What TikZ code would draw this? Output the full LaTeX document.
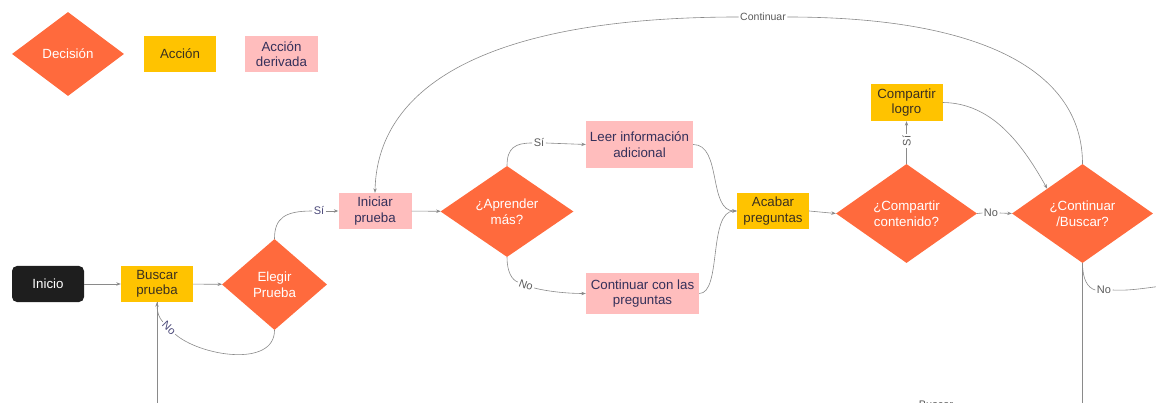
\documentclass[tikz,border=0pt]{standalone}
\usepackage{fontspec}
\setmainfont{Liberation Sans}
\usetikzlibrary{shapes.geometric,arrows.meta}
\definecolor{decfill}{HTML}{FF6A3D}
\definecolor{actfill}{HTML}{FFC300}
\definecolor{derfill}{HTML}{FFBDBD}
\definecolor{startfill}{HTML}{1E1E1E}
\definecolor{navytext}{HTML}{34305A}
\definecolor{acttext}{HTML}{3B3020}
\definecolor{linegray}{HTML}{8A8A8A}
\definecolor{lblgray}{HTML}{5A5A5A}
\definecolor{lblnavy}{HTML}{4A4878}
\begin{document}
\begin{tikzpicture}[x=1pt,y=-1pt,
  txt/.style={font=\fontsize{13.3}{15.5}\selectfont, align=center, inner sep=0pt},
  decision/.style={txt, diamond, fill=decfill, text=white},
  action/.style={txt, rectangle, fill=actfill, text=acttext},
  derived/.style={txt, rectangle, fill=derfill, text=navytext},
  startbox/.style={txt, rectangle, rounded corners=5pt, fill=startfill, text=white},
  conn/.style={draw=linegray, line width=0.6pt},
  arr/.style={conn, -{Stealth[length=4.5pt,width=3.4pt]}},
  lbl/.style={font=\fontsize{11}{12}\selectfont, text=lblgray, inner sep=1.5pt},
  lbln/.style={lbl, text=lblnavy},
]
\useasboundingbox (0,0) rectangle (1156,403);

% legend
\node[decision, minimum width=112pt, minimum height=84pt] (lgdec) at (68,54) {Decisión};
\node[action, minimum width=72pt, minimum height=36pt] (lgact) at (180,54) {Acción};
\node[derived, minimum width=73pt, minimum height=36pt] (lgder) at (281.5,54) {Acción\\derivada};

% flow nodes
\node[startbox, minimum width=72pt, minimum height=36pt] (inicio) at (48,284) {Inicio};
\node[action, minimum width=72pt, minimum height=36pt] (buscar) at (157,284) {Buscar\\prueba};
\node[decision, minimum width=105pt, minimum height=91pt] (elegir) at (274.5,284.5) {Elegir\\Prueba};
\node[derived, minimum width=73pt, minimum height=36pt] (iniciar) at (375,211) {Iniciar\\prueba};
\node[decision, minimum width=133pt, minimum height=91pt] (aprender) at (507,211.5) {¿Aprender\\más?};
\node[derived, minimum width=107pt, minimum height=47pt] (leer) at (639.5,144.5) {Leer información\\adicional};
\node[derived, minimum width=113pt, minimum height=41pt] (contp) at (642.5,293.5) {Continuar con las\\preguntas};
\node[action, minimum width=72pt, minimum height=36pt] (acabar) at (773,211) {Acabar\\preguntas};
\node[decision, minimum width=141pt, minimum height=99pt] (compartir) at (906.5,213.5) {¿Compartir\\contenido?};
\node[action, minimum width=72pt, minimum height=37pt] (logro) at (906.5,102.5) {Compartir\\logro};
\node[decision, minimum width=141pt, minimum height=99pt] (contbus) at (1082.5,213.5) {¿Continuar\\/Buscar?};

% edge labels
\node[lbln] (siA) at (319,211) {Sí};
\node[lbln, rotate=-45] (noA) at (169,328) {No};
\node[lbl] (siB) at (539,143) {Sí};
\node[lbl, rotate=-20] (noB) at (526,285) {No};
\node[lbl, rotate=90] (siC) at (906.5,141) {Sí};
\node[lbl] (noC) at (991,213) {No};
\node[lbl] (noD) at (1104,290) {No};
\node[lbl, font=\fontsize{10.5}{12}\selectfont] (contA) at (763,17) {Continuar};
\node[lbl, anchor=base] (busq) at (936,408) {Buscar};

\coordinate (offL) at (157,415);
\coordinate (offR) at (1170,285);
\coordinate (offB) at (1082.5,415);

% connectors
\draw[arr] (inicio) -- (buscar);
\draw[arr] (buscar) -- (elegir);

\draw[conn] (elegir.north) .. controls (274.5,218) and (285,211) .. (siA.west);
\draw[arr] (siA.east) -- (iniciar.west);

\draw[conn] (elegir.south) .. controls (274.5,368) and (200,356) .. (noA.east);
\draw[arr] (noA.west) .. controls (159,318) and (157,312) .. (buscar.south);
\draw[conn] (offL) -- (buscar.south);

\draw[arr] (iniciar) -- (aprender);

\draw[conn] (aprender.north) .. controls (507,148) and (515,143) .. (siB.west);
\draw[arr] (siB.east) -- (leer.west);

\draw[conn] (aprender.south) .. controls (507,272) and (512,280) .. (noB.west);
\draw[arr] (noB.east) .. controls (550,292) and (570,293.5) .. (contp.west);

\draw[arr] (leer.east) .. controls (722,144.5) and (708,211) .. (acabar.west);
\draw[arr] (contp.east) .. controls (722,293.5) and (708,211) .. (acabar.west);

\draw[arr] (acabar.east) -- (compartir.west);

\draw[conn] (compartir.north) -- (siC.west);
\draw[arr] (siC.east) -- (logro.south);

\draw[conn] (compartir.east) -- (noC.west);
\draw[arr] (noC.east) -- (contbus.west);

\draw[arr] (logro.east) .. controls (990,103) and (1020,140) .. (contbus.north west);

\draw[conn] (contbus.north) .. controls (1082.5,70) and (980,17) .. (contA.east);
\draw[arr] (contA.west) .. controls (480,17) and (377,90) .. (iniciar.north);

\draw[conn] (contbus.south) .. controls (1082.5,280) and (1088,288) .. (noD.west);
\draw[conn] (noD.east) .. controls (1130,291) and (1145,288) .. (offR);
\draw[conn] (contbus.south) -- (offB);
\end{tikzpicture}
\end{document}
